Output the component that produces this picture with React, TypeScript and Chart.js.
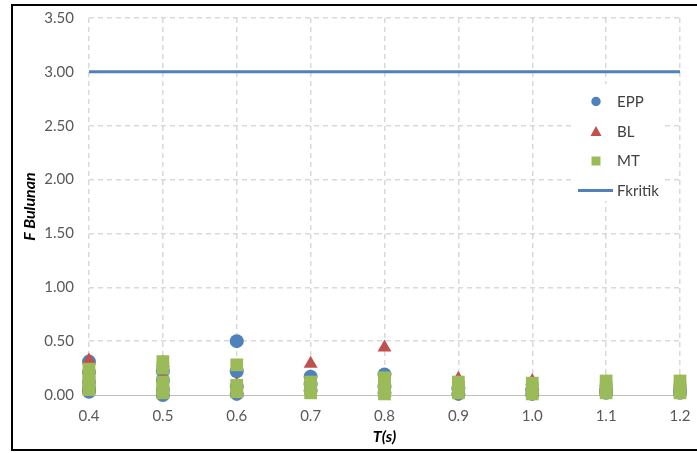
import React, { useEffect, useRef } from "react";
import { Chart, registerables } from "chart.js";
Chart.register(...registerables);

const periods = [0.4, 0.5, 0.6, 0.7, 0.8, 0.9, 1.0, 1.1, 1.2];
const yTickValues = [0, 0.5, 1.0, 1.5, 2.0, 2.5, 3.0, 3.5];

const eppValues = [
  [0.31, 0.21, 0.12, 0.06, 0.03],
  [0.22, 0.14, 0.05, 0.0],
  [0.5, 0.22, 0.08, 0.01],
  [0.17, 0.1, 0.04],
  [0.19, 0.08, 0.02],
  [0.06, 0.01],
  [0.05, 0.01],
  [0.05, 0.02],
  [0.05, 0.02],
];
const blValues = [
  [0.32, 0.2, 0.08],
  [0.3, 0.15, 0.02],
  [0.1, 0.05, 0.02],
  [0.29, 0.08],
  [0.44, 0.1, 0.02],
  [0.15, 0.05],
  [0.13, 0.03],
  [0.12, 0.03],
  [0.12, 0.03],
];
const mtValues = [
  [0.24, 0.17, 0.1, 0.05],
  [0.31, 0.25, 0.12, 0.06, 0.02],
  [0.28, 0.09, 0.03],
  [0.12, 0.06, 0.02],
  [0.16, 0.11, 0.05, 0.01],
  [0.12, 0.07, 0.02],
  [0.11, 0.06, 0.01],
  [0.13, 0.07, 0.02],
  [0.13, 0.07, 0.02],
];
const fKritik = 3.0;

const seriesNames = ["EPP", "BL", "MT", "Fkritik"];
const blue = "#4f81bd";
const red = "#c0504d";
const green = "#9bbb59";
const FONT = "Lato";

const toPoints = (vals: number[][]) =>
  vals.flatMap((list, i) => list.map((v) => ({ x: periods[i], y: v })));

const framePlugin = {
  id: "frame",
  afterDraw(chart: any) {
    const ctx = chart.ctx;
    ctx.save();
    ctx.strokeStyle = "#000";
    ctx.lineWidth = 2;
    ctx.strokeRect(12, 5, 700, 445);
    ctx.restore();
  },
};

const legendPlugin = {
  id: "customLegend",
  afterDatasetsDraw(chart: any) {
    const ctx = chart.ctx;
    ctx.save();
    ctx.fillStyle = "#fff";
    ctx.fillRect(572, 84, 92, 117);
    const mx = 596;
    const tx = 617;
    const ys = [101.5, 131.5, 161, 190.5];
    ctx.font = `15px ${FONT}`;
    ctx.textBaseline = "middle";
    ctx.textAlign = "left";
    ctx.fillStyle = blue;
    ctx.beginPath();
    ctx.arc(mx, ys[0], 4.7, 0, Math.PI * 2);
    ctx.fill();
    ctx.fillStyle = red;
    ctx.beginPath();
    ctx.moveTo(mx, ys[1] - 5.5);
    ctx.lineTo(mx + 5.5, ys[1] + 4.5);
    ctx.lineTo(mx - 5.5, ys[1] + 4.5);
    ctx.closePath();
    ctx.fill();
    ctx.fillStyle = green;
    ctx.fillRect(mx - 4.5, ys[2] - 4.5, 9, 9);
    ctx.strokeStyle = blue;
    ctx.lineWidth = 3;
    ctx.beginPath();
    ctx.moveTo(578, ys[3]);
    ctx.lineTo(613, ys[3]);
    ctx.stroke();
    ctx.fillStyle = "#404040";
    seriesNames.forEach((n, i) => ctx.fillText(n, tx, ys[i] + 0.5));
    ctx.restore();
  },
};

export default function App() {
  const ref = useRef<HTMLCanvasElement>(null);
  useEffect(() => {
    if (!ref.current) return;
    const chart = new Chart(ref.current, {
      type: "scatter",
      data: {
        datasets: [
          {
            label: seriesNames[0],
            data: toPoints(eppValues),
            backgroundColor: blue,
            borderColor: blue,
            pointStyle: "circle",
            pointRadius: 7,
            pointBorderWidth: 0,
            clip: false,
            order: 3,
          },
          {
            label: seriesNames[1],
            data: toPoints(blValues),
            backgroundColor: red,
            borderColor: red,
            pointStyle: "triangle",
            pointRadius: 8,
            pointBorderWidth: 0,
            clip: false,
            order: 2,
          },
          {
            label: seriesNames[2],
            data: toPoints(mtValues),
            backgroundColor: green,
            borderColor: green,
            pointStyle: "rect",
            pointRadius: 9,
            pointBorderWidth: 0,
            clip: false,
            order: 1,
          },
          {
            label: seriesNames[3],
            data: [
              { x: periods[0], y: fKritik },
              { x: periods[periods.length - 1], y: fKritik },
            ],
            showLine: true,
            borderColor: blue,
            backgroundColor: blue,
            borderWidth: 3,
            pointRadius: 0,
            order: 4,
          },
        ],
      },
      options: {
        animation: false,
        responsive: true,
        maintainAspectRatio: false,
        layout: { padding: { left: 14, right: 17, top: 18, bottom: 0 } },
        plugins: { legend: { display: false }, tooltip: { enabled: false } },
        scales: {
          x: {
            type: "linear",
            min: periods[0],
            max: periods[periods.length - 1],
            afterBuildTicks: (s: any) => {
              s.ticks = periods.map((v) => ({ value: v }));
            },
            afterFit: (s: any) => {
              s.height = 58;
              s.paddingLeft = 0;
              s.paddingRight = 0;
            },
            ticks: {
              padding: 12,
              color: "#595959",
              font: { family: FONT, size: 15 },
              callback: (v: any) => Number(v).toFixed(1),
            },
            grid: { color: "#d9d9d9", lineWidth: 1.5, drawTicks: false },
            border: { display: true, color: "#bfbfbf", width: 1, dash: [5, 4] },
            title: {
              display: true,
              text: "T(s)",
              color: "#000",
              padding: 7,
              font: { family: FONT, size: 16, weight: "bold", style: "italic" },
            },
          },
          y: {
            type: "linear",
            min: 0,
            max: 3.5,
            afterBuildTicks: (s: any) => {
              s.ticks = yTickValues.map((v) => ({ value: v }));
            },
            afterFit: (s: any) => {
              s.width = 75;
              s.paddingTop = 0;
              s.paddingBottom = 0;
            },
            ticks: {
              padding: 15,
              color: "#595959",
              font: { family: FONT, size: 15 },
              callback: (v: any) => Number(v).toFixed(2),
            },
            grid: {
              color: (c: any) => (c.tick && c.tick.value === 0 ? "rgba(0,0,0,0)" : "#d9d9d9"),
              lineWidth: 1.5,
              drawTicks: false,
            },
            border: { display: false, dash: [5, 4] },
            title: {
              display: true,
              text: "F Bulunan",
              color: "#000",
              padding: 6,
              font: { family: FONT, size: 16, weight: "bold", style: "italic" },
            },
          },
        },
      },
      plugins: [legendPlugin, framePlugin],
    });
    return () => chart.destroy();
  }, []);
  return (
    <div style={{ position: "absolute", left: 0, top: 0, width: 697, height: 453, background: "#fff" }}>
      <canvas ref={ref} />
    </div>
  );
}
